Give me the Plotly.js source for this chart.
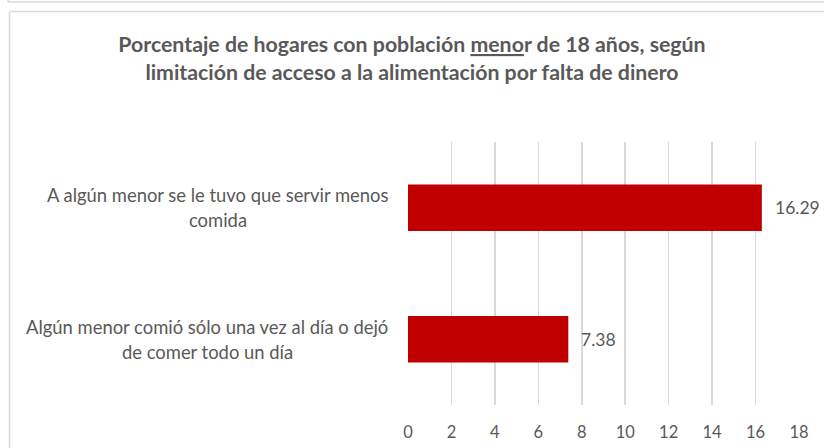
<!DOCTYPE html>
<html>
<head>
<meta charset="utf-8">
<script src="https://cdn.plot.ly/plotly-3.0.1.min.js"></script>
<style>
  html, body { margin: 0; padding: 0; background: #fff; }
  #chart { width: 824px; height: 448px; }
</style>
</head>
<body>
<div id="chart"></div>
<script>
// ---- Data ----
var categories = [
  "A algún menor se le tuvo que servir menos<br>comida",
  "Algún menor comió sólo una vez al día o dejó<br>de comer todo un día"
];
var values = [16.29, 7.38];
var valueLabels = ["16.29", "7.38"];
var tickValues = [0, 2, 4, 6, 8, 10, 12, 14, 16, 18];
var tickLabels = ["0", "2", "4", "6", "8", "10", "12", "14", "16", "18"];
var titleText = "Porcentaje de hogares con población <u>meno</u>r de 18 años, según<br>limitación de acceso a la alimentación por falta de dinero";

// ---- Layout geometry ----
var W = 824, H = 448;
var M = { l: 408, r: 25, t: 142, b: 43 };
var pw = W - M.l - M.r, ph = H - M.t - M.b;
function px(x) { return (x - M.l) / pw; }
function py(y) { return (H - M.b - y) / ph; }

var FONT = "Lato, 'Open Sans', sans-serif";
var GREY = "#595959";
var FRAME = "#d9d9d9";
var LABEL_SIZE = 18.4;

var ctx = document.createElement("canvas").getContext("2d");
ctx.font = LABEL_SIZE + "px Lato";
function textW(s) { return ctx.measureText(s).width; }

var annotations = [];
categories.forEach(function (c, i) {
  var lines = c.split("<br>");
  var n = lines.length;
  var wmax = Math.max.apply(null, lines.map(textW));
  var cx = 389 - wmax / 2;
  lines.forEach(function (ln, j) {
    annotations.push({
      xref: "paper", yref: "y", x: px(cx), y: c,
      xanchor: "center", yanchor: "middle",
      text: ln, showarrow: false,
      font: { family: FONT, size: LABEL_SIZE, color: GREY },
      yshift: -((j - (n - 1) / 2) * 25)
    });
  });
  annotations.push({
    xref: "x", yref: "y", x: values[i], y: c,
    xanchor: "left", yanchor: "middle",
    text: valueLabels[i], showarrow: false, xshift: 11,
    font: { family: FONT, size: 17.5, color: GREY }
  });
});

var trace = {
  type: "bar",
  orientation: "h",
  x: values,
  y: categories,
  marker: { color: "#c00000" },
  hoverinfo: "none"
};

var layout = {
  width: W, height: H,
  margin: M,
  paper_bgcolor: "#ffffff",
  plot_bgcolor: "#ffffff",
  showlegend: false,
  bargap: 0.647,
  title: {
    text: titleText,
    x: 0.5, xref: "container", xanchor: "center",
    y: 1 - 52 / H, yref: "container", yanchor: "middle",
    font: { family: FONT, size: 21.3, color: GREY, weight: "bold" }
  },
  xaxis: {
    range: [0, 18],
    tickvals: tickValues,
    ticktext: tickLabels,
    showgrid: true,
    gridcolor: FRAME,
    gridwidth: 1.5,
    zeroline: false,
    showline: false,
    ticks: "",
    ticklabelstandoff: 15,
    tickfont: { family: FONT, size: 16.5, color: GREY },
    fixedrange: true
  },
  yaxis: {
    type: "category",
    categoryorder: "array",
    categoryarray: categories,
    autorange: "reversed",
    showticklabels: false,
    showgrid: false,
    zeroline: false,
    showline: false,
    ticks: "",
    fixedrange: true
  },
  annotations: annotations,
  shapes: [
    { type: "line", xref: "paper", yref: "paper", x0: px(8), x1: px(W + 5), y0: py(2), y1: py(2),
      line: { color: FRAME, width: 1.5 } },
    { type: "line", xref: "paper", yref: "paper", x0: px(8), x1: px(8), y0: py(-5), y1: py(2),
      line: { color: FRAME, width: 1.5 } },
    { type: "line", xref: "paper", yref: "paper", x0: px(9.5), x1: px(W + 5), y0: py(11.5), y1: py(11.5),
      line: { color: FRAME, width: 1.5 } },
    { type: "line", xref: "paper", yref: "paper", x0: px(9.5), x1: px(9.5), y0: py(11.5), y1: py(H + 5),
      line: { color: FRAME, width: 1.5 } }
  ]
};

Plotly.newPlot("chart", [trace], layout, { displayModeBar: false, staticPlot: true });
</script>
</body>
</html>
